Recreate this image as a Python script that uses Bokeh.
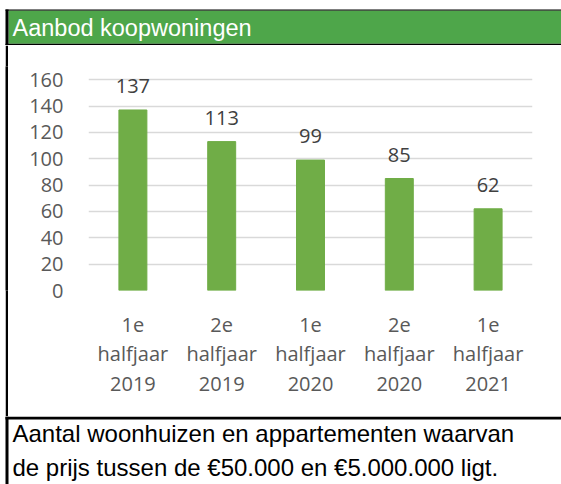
from bokeh.plotting import figure
from bokeh.layouts import column, row, Spacer
from bokeh.models import ColumnDataSource, LabelSet, FactorRange, Range1d, FixedTicker
from bokeh.core.properties import value
from bokeh.embed import file_html
from bokeh.resources import INLINE

# ---- data ----
title_text = "Aanbod koopwoningen"
footer_lines = ["Aantal woonhuizen en appartementen waarvan",
                "de prijs tussen de €50.000 en €5.000.000 ligt."]
categories = ["1e\nhalfjaar\n2019", "2e\nhalfjaar\n2019", "1e\nhalfjaar\n2020",
              "2e\nhalfjaar\n2020", "1e\nhalfjaar\n2021"]
values = [137, 113, 99, 85, 62]
y_ticks = [0, 20, 40, 60, 80, 100, 120, 140, 160]

# ---- styling / layout ----
W = 561
TITLE_H, MAIN_H, FOOT_H = 45, 371, 68
BAR = "#70ad47"
TITLE_GREEN = "#4ea64a"
GRID = "#d9d9d9"
TICK = "#595959"


def blank(width, height, fill="white"):
    f = figure(width=width, height=height, x_range=Range1d(0, width),
               y_range=Range1d(height, 0), output_backend="svg",
               toolbar_location=None, x_axis_location=None, y_axis_location=None,
               min_border=0, min_border_left=0, min_border_right=0,
               min_border_top=0, min_border_bottom=0)
    f.grid.visible = False
    f.outline_line_color = None
    f.background_fill_color = fill
    f.border_fill_color = fill
    return f


# title band
t = blank(W, TITLE_H)
t.quad(left=[5], right=[W], top=[9], bottom=[10.2], fill_color="black", line_color=None)
t.quad(left=[8], right=[W], top=[10.2], bottom=[43.2], fill_color=TITLE_GREEN, line_color=None)
t.quad(left=[5], right=[W], top=[43.2], bottom=[45.5], fill_color="black", line_color=None)
t.quad(left=[5], right=[8], top=[9], bottom=[TITLE_H], fill_color="black", line_color=None)
t.text(x=[12], y=[27], text=[title_text], text_color="white",
       text_font=value("Liberation Sans"), text_font_size="23.5px",
       text_baseline="middle", text_align="left")

# left border beside the chart: white gap + solid black strip
gap = Spacer(width=5, height=MAIN_H)
strip = blank(3, MAIN_H, fill="black")

# main chart
CW = W - 8
p = figure(width=CW, height=MAIN_H, x_range=FactorRange(*categories),
           y_range=Range1d(0, 170), output_backend="svg", toolbar_location=None,
           min_border_left=80, min_border_right=CW - 524,
           min_border_top=21, min_border_bottom=126)
p.outline_line_color = None
p.background_fill_color = "white"
p.border_fill_color = "white"

src = ColumnDataSource(dict(cat=categories, val=values, lab=[str(v) for v in values]))
p.vbar(x="cat", top="val", width=0.315, source=src, fill_color=BAR, line_color=BAR)

p.add_layout(LabelSet(x="cat", y="val", text="lab", source=src, text_align="center",
                      text_baseline="middle", y_offset=24,
                      text_font=value("Open Sans"), text_font_size="20px",
                      text_color="#404040"))

p.xgrid.grid_line_color = None
p.ygrid.grid_line_color = GRID
p.ygrid.grid_line_width = 1.5
p.yaxis.ticker = FixedTicker(ticks=y_ticks)
for ax in (p.xaxis, p.yaxis):
    ax.axis_line_color = None
    ax.major_tick_line_color = None
    ax.minor_tick_line_color = None
    ax.major_tick_out = 0
    ax.major_tick_in = 0
    ax.major_label_text_font = "Open Sans"
    ax.major_label_text_font_size = "20px"
    ax.major_label_text_color = TICK
p.yaxis.major_label_standoff = 25
p.xaxis.major_label_standoff = 20
p.xaxis.major_label_text_line_height = 1.1

# footer
f = blank(W, FOOT_H)
f.quad(left=[5], right=[W], top=[0], bottom=[3], fill_color="black", line_color=None)
f.quad(left=[5], right=[8], top=[0], bottom=[FOOT_H], fill_color="black", line_color=None)
f.text(x=[12, 12], y=[17, 51], text=footer_lines, text_color="black",
       text_font=value("Liberation Sans"), text_font_size="24px",
       text_baseline="middle", text_align="left")

layout = column(t, row(gap, strip, p), f)
open("out.html", "w").write(file_html(layout, INLINE))
